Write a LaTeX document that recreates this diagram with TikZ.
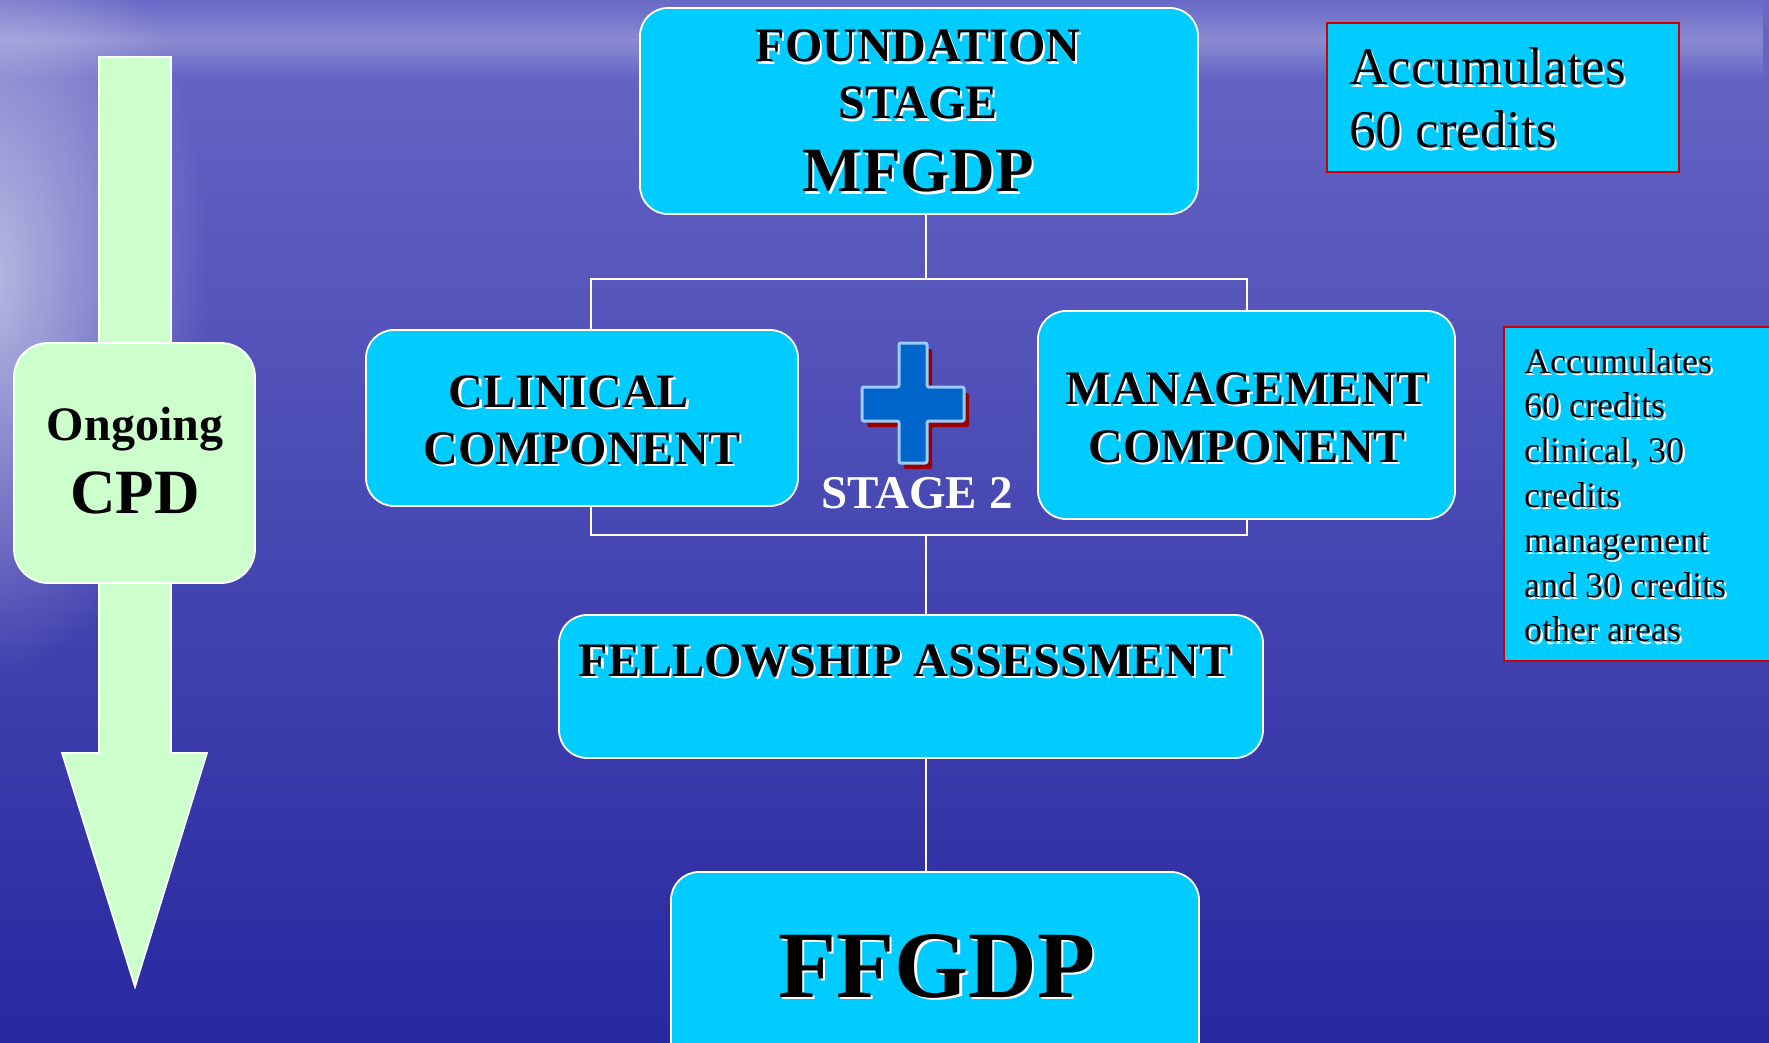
\documentclass[tikz,border=0pt]{standalone}
\usepackage{fontspec}
\setmainfont{Liberation Serif}
\usetikzlibrary{fadings}
\definecolor{boxcyan}{RGB}{0,204,255}
\definecolor{boxred}{RGB}{204,0,0}
\definecolor{cpdgreen}{RGB}{204,255,204}
\definecolor{crossblue}{RGB}{0,102,204}
\definecolor{crossedge}{RGB}{153,204,255}
\definecolor{crossshadow}{RGB}{153,0,0}
\definecolor{bgtop}{RGB}{104,104,198}
\definecolor{bgmid}{RGB}{58,58,178}
\definecolor{bgbot}{RGB}{40,40,160}
\newcommand\shd[1]{\leavevmode\rlap{\kern2.2pt\raisebox{-2.2pt}{\color{white}#1}}#1}
\tikzfading[name=glowfade, inner color=transparent!0, outer color=transparent!100]
\tikzfading[name=bandfade, top color=transparent!100, bottom color=transparent!100, middle color=transparent!30]
\begin{document}
\begin{tikzpicture}[x=1pt,y=-1pt,
  cyanbox/.style={draw=white, line width=1.8pt, fill=boxcyan, rounded corners=28pt, inner sep=0pt},
  redbox/.style={draw=boxred, line width=2pt, fill=boxcyan, inner sep=0pt},
  cpdbox/.style={draw=white, line width=1.8pt, fill=cpdgreen, rounded corners=34pt, inner sep=0pt},
  conn/.style={draw=white, line width=1.6pt},
  btext/.style={font=\fontsize{48}{56}\selectfont\bfseries, inner sep=0pt, anchor=base},
  bigtext/.style={font=\fontsize{63}{70}\selectfont\bfseries, inner sep=0pt, anchor=base},
  hugetext/.style={font=\fontsize{95}{100}\selectfont\bfseries, inner sep=0pt, anchor=base},
  notetext/.style={font=\fontsize{53}{60}\selectfont, inner sep=0pt, anchor=base west},
  smalltext/.style={font=\fontsize{36}{42}\selectfont, inner sep=0pt, anchor=base west},
  arrowshape/.style={draw=white, line width=1.6pt, fill=cpdgreen, line join=miter}
]
\useasboundingbox (0,0) rectangle (1769,1043);
\clip (0,0) rectangle (1769,1043);
% background
\shade[top color=bgtop, middle color=bgmid, bottom color=bgbot] (0,0) rectangle (1769,1043);
\fill[white, opacity=0.6, path fading=glowfade] (-20,280) ellipse (230 and 400);
\fill[white, opacity=0.35, path fading=bandfade] (0,0) rectangle (1769,80);

% connectors
\coordinate (jt) at (926,279);
\coordinate (jb) at (926,535);
\coordinate (cx) at (591,0);
\coordinate (mx) at (1247,0);

% boxes
\node[cyanbox, minimum width=558pt, minimum height=206pt] (found) at (919,111) {};
\node[cyanbox, minimum width=432pt, minimum height=176pt] (clin) at (582,418) {};
\node[cyanbox, minimum width=417pt, minimum height=208pt] (mgmt) at (1246.5,415) {};
\node[cyanbox, minimum width=704pt, minimum height=143pt] (fell) at (911,686.5) {};
\node[cyanbox, minimum width=528pt, minimum height=198pt] (ffgdp) at (935,971) {};
\node[redbox, minimum width=352pt, minimum height=149pt] (note1) at (1503,97.5) {};
\node[redbox, minimum width=290pt, minimum height=334pt] (note2) at (1649,494) {};

\draw[conn] (found.south -| jt) -- (jt);
\draw[conn] (clin.north -| cx) |- (jt) -| (mgmt.north -| mx);
\draw[conn] (clin.south -| cx) |- (jb) -| (mgmt.south -| mx);
\draw[conn] (jb) -- (fell.north -| jb);
\draw[conn] (fell.south -| jb) -- (ffgdp.north -| jb);

% CPD arrow
\draw[arrowshape] (99,57) -- (171,57) -- (171,753) -- (207,753) -- (135,987) -- (62,753) -- (99,753) -- cycle;
\node[cpdbox, minimum width=241pt, minimum height=240pt] (cpd) at (134.5,463) {};

% plus sign
\fill[crossshadow, rounded corners=2pt] (904,349) -- (932,349) -- (932,393) -- (969,393) -- (969,427) -- (932,427) -- (932,469) -- (904,469) -- (904,427) -- (867,427) -- (867,393) -- (904,393) -- cycle;
\draw[fill=crossblue, draw=crossedge, line width=3pt, rounded corners=2pt] (899,343) -- (927,343) -- (927,387) -- (964,387) -- (964,421) -- (927,421) -- (927,463) -- (899,463) -- (899,421) -- (862,421) -- (862,387) -- (899,387) -- cycle;

% texts
\node[btext] (tfound) at (918,62) {\shd{FOUNDATION}};
\node[btext] (tstage) at (918,119) {\shd{STAGE}};
\node[bigtext] (tmfgdp) at (918,192) {\shd{MFGDP}};
\node[btext] (tclin1) at (569,407) {\shd{CLINICAL}};
\node[btext] (tclin2) at (582,464) {\shd{COMPONENT}};
\node[btext] (tmgmt1) at (1247,404) {\shd{MANAGEMENT}};
\node[btext] (tmgmt2) at (1247,462) {\shd{COMPONENT}};
\node[btext, text=white, font=\fontsize{47}{54}\selectfont\bfseries] (tstage2) at (917,508) {STAGE 2};
\node[btext] (tfell) at (905,676) {\shd{FELLOWSHIP ASSESSMENT}};
\node[hugetext] (tffgdp) at (937,997) {\shd{FFGDP}};
\node[btext] (tong) at (135,440) {Ongoing};
\node[bigtext] (tcpd) at (135,513) {CPD};
\node[notetext] (tn1a) at (1349,85) {\shd{Accumulates}};
\node[notetext] (tn1b) at (1349,148) {\shd{60 credits}};
\foreach \t [count=\i from 0] in {Accumulates, 60 credits, {clinical, 30}, credits, management, and 30 credits, other areas}
  \node[smalltext] (tn2\i) at (1524,373+44.8*\i) {\shd{\t}};
\end{tikzpicture}
\end{document}
